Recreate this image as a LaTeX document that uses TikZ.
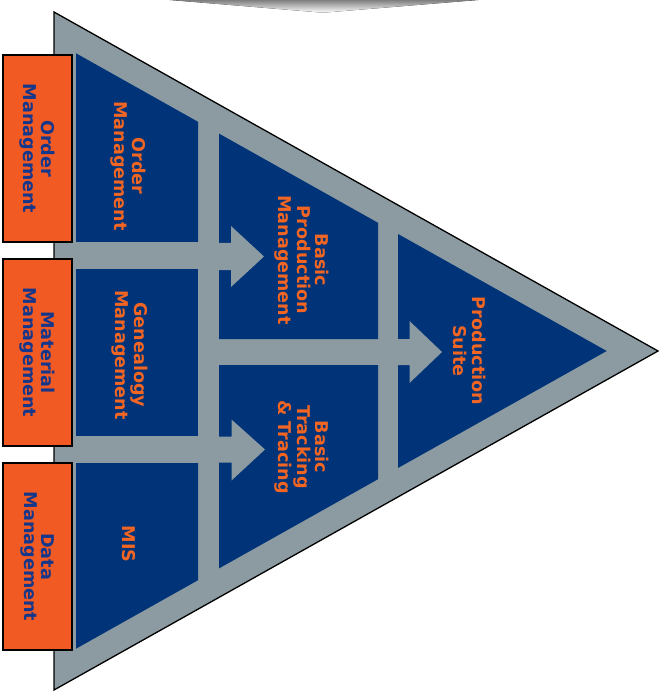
\documentclass[tikz,border=0pt]{standalone}
\usepackage{fontspec}
\setmainfont{DejaVu Sans}
\definecolor{navy}{RGB}{0,51,120}
\definecolor{slate}{RGB}{139,155,161}
\definecolor{boxorange}{RGB}{241,90,34}
\definecolor{txtorange}{RGB}{242,101,34}
\definecolor{boxtext}{RGB}{20,55,140}
\definecolor{shade}{RGB}{200,200,200}
\begin{document}
\begin{tikzpicture}[x=1pt,y=-1pt,
  region/.style={fill=navy},
  flow/.style={fill=slate},
  sidebox/.style={draw=black,line width=1.3pt,fill=boxorange,rotate=-90,
    minimum width=187pt,minimum height=69pt,inner sep=0pt,align=center,
    text=boxtext,font=\fontsize{17.6}{17.5}\selectfont\bfseries},
  inlabel/.style={rotate=-90,align=center,inner sep=0pt,text=txtorange,
    font=\fontsize{17.6}{18.5}\selectfont\bfseries}]
\useasboundingbox (0,0) rectangle (666,692);
% top chevron (cropped shape)
\fill[shade] (170,0) -- (478,0) -- (323,12.7) -- cycle;
% outer triangle
\draw[fill=slate,line width=1.3pt] (54,12) -- (658,351) -- (54,690) -- cycle;
% blue regions
\fill[region] (76,53.3) -- (198,121.8) -- (198,242) -- (76,242) -- cycle;
\fill[region] (76,269) -- (198,269) -- (198,436) -- (76,436) -- cycle;
\fill[region] (76,463) -- (198,463) -- (198,580.2) -- (76,648.7) -- cycle;
\fill[region] (219,133.6) -- (378,222.8) -- (378,339) -- (219,339) -- cycle;
\fill[region] (219,365) -- (378,365) -- (378,479.2) -- (219,568.4) -- cycle;
\fill[region] (398,234) -- (606.7,351) -- (398,468) -- cycle;
% arrows
\fill[flow] (198,243) -- (231,243) -- (231,226) -- (264,256.5) -- (231,287) -- (231,270) -- (198,270) -- cycle;
\fill[flow] (198,436.5) -- (231.5,436.5) -- (231.5,419.5) -- (265,449.5) -- (231.5,480.5) -- (231.5,462.5) -- (198,462.5) -- cycle;
\fill[flow] (378,339) -- (409.5,339) -- (409.5,321) -- (442,352) -- (409.5,383) -- (409.5,365) -- (378,365) -- cycle;
% side boxes
\node[sidebox] (om) at (37.5,148.5) {Order\\Management};
\node[sidebox] (mm) at (37.5,352.5) {Material\\Management};
\node[sidebox] (dm) at (37.5,556.5) {Data\\Management};
% labels
\node[inlabel] (r1) at (128.5,166) {Order\\Management};
\node[inlabel] (r2) at (130,355) {Genealogy\\Management};
\node[inlabel] (r3) at (129,544) {MIS};
\node[inlabel] (r4) at (302,260) {Basic\\Production\\Management};
\node[inlabel] (r5) at (302,447) {Basic\\Tracking\\\& Tracing};
\node[inlabel] (r6) at (469.5,351) {Production\\Suite};
\end{tikzpicture}
\end{document}
